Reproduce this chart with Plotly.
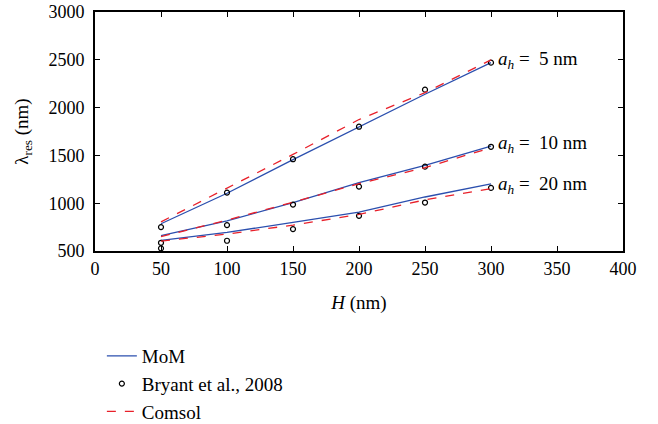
import plotly.graph_objects as go

H = [50, 100, 150, 200, 250, 300]

mom_5 = [785, 1104, 1456, 1802, 2140, 2470]
mom_10 = [660, 815, 1007, 1215, 1396, 1597]
mom_20 = [612, 695, 799, 906, 1065, 1203]

comsol_5 = [805, 1156, 1510, 1875, 2156, 2500]
comsol_10 = [650, 823, 1010, 1205, 1372, 1580]
comsol_20 = [604, 677, 771, 882, 1035, 1153]

bryant_5 = [750, 1111, 1460, 1800, 2188, 2470]
bryant_10 = [586, 771, 986, 1174, 1382, 1590]
bryant_20 = [528, 607, 729, 868, 1007, 1160]

labels = ["5", "10", "20"]

FONT = "Liberation Serif, DejaVu Serif, Times New Roman, serif"
BLUE = "#2b4fae"
RED = "#e8202a"

fig = go.Figure()

for i, ys in enumerate([mom_5, mom_10, mom_20]):
    fig.add_trace(go.Scatter(x=H, y=ys, mode="lines", name="MoM",
                             line=dict(color=BLUE, width=1.3),
                             legendgroup="mom", showlegend=(i == 0)))
for i, ys in enumerate([bryant_5, bryant_10, bryant_20]):
    fig.add_trace(go.Scatter(x=H, y=ys, mode="markers", name="Bryant et al., 2008",
                             marker=dict(symbol="circle-open", size=5, color="black",
                                         line=dict(width=1.2, color="black")),
                             legendgroup="bry", showlegend=(i == 0)))
for i, ys in enumerate([comsol_5, comsol_10, comsol_20]):
    fig.add_trace(go.Scatter(x=H, y=ys, mode="lines", name="Comsol",
                             line=dict(color=RED, width=1.3, dash="dash"),
                             legendgroup="com", showlegend=(i == 0)))

for lab, ys in zip(labels, [bryant_5, bryant_10, bryant_20]):
    fig.add_annotation(x=H[-1], y=ys[-1], xref="x", yref="y",
                       text="<i>a</i><sub><i>h</i></sub> =  " + lab + " nm",
                       showarrow=False, xanchor="left", yanchor="middle",
                       xshift=5, yshift=3, font=dict(family=FONT, size=19, color="black"))

axis_common = dict(showline=True, linecolor="black", linewidth=2, mirror="ticks",
                   ticks="inside", ticklen=5, tickcolor="black", tickwidth=1,
                   showgrid=False, zeroline=False, automargin=False,
                   tickfont=dict(family=FONT, size=18, color="black"))

fig.update_xaxes(range=[0, 400], tickmode="linear", tick0=0, dtick=50,
                 title=dict(text="<i>H</i> (nm)", font=dict(family=FONT, size=19, color="black"),
                            standoff=18),
                 **axis_common)
fig.update_yaxes(range=[500, 3000], tickmode="linear", tick0=500, dtick=500,
                 ticklabelstandoff=5,
                 title=dict(text="λ<sub>res</sub> (nm)", font=dict(family=FONT, size=19, color="black"),
                            standoff=15),
                 **axis_common)

fig.update_layout(
    width=658, height=424,
    margin=dict(l=95, r=35, t=12, b=173, autoexpand=False),
    paper_bgcolor="white", plot_bgcolor="white",
    font=dict(family=FONT, size=18, color="black"),
    legend=dict(x=0.013, y=-0.36, xanchor="left", yanchor="top",
                orientation="v", tracegroupgap=0, itemsizing="trace",
                font=dict(family=FONT, size=19, color="black"),
                bgcolor="rgba(0,0,0,0)"),
)

fig.write_html("out.html", config={"displayModeBar": False},
               post_script="document.body.style.margin='0';")
